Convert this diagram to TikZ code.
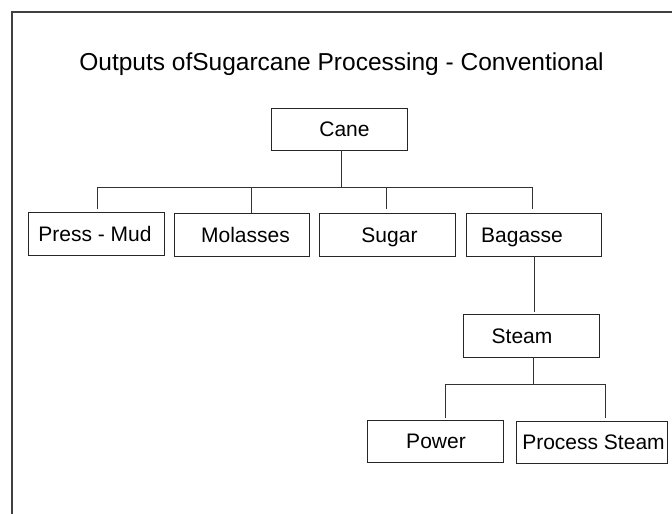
\documentclass[tikz,border=0pt]{standalone}
\usepackage{fontspec}
\setmainfont{Liberation Sans}
\begin{document}
\begin{tikzpicture}[x=1pt,y=-1pt,
  box/.style={draw=black!85,line width=0.9pt,minimum height=43pt,inner sep=0pt,outer sep=0pt},
  lbl/.style={font=\fontsize{21}{24}\selectfont,text height=15pt,text depth=0pt,inner sep=0pt},
  link/.style={draw=black!80,line width=0.9pt}]
  \useasboundingbox (0,0) rectangle (672,514);
  \clip (0,0) rectangle (672,514);
  % outer frame, running off the right and bottom edges
  \draw[black!75,line width=1.4pt] (12,12) rectangle (700,540);

  % title
  \node[font=\fontsize{24.5}{28}\selectfont,anchor=base,inner sep=0pt] (title) at (341.5,70.5)
    {Outputs ofSugarcane Processing - Conventional};

  % boxes
  \node[box,minimum width=136pt,minimum height=42pt,
        label={[lbl,xshift=5.5pt]center:Cane}] (cane) at (339,129) {};
  \node[box,minimum width=136pt,
        label={[lbl,xshift=-1pt]center:Press - Mud}] (pm) at (96,233.5) {};
  \node[box,minimum width=135pt,
        label={[lbl,xshift=4pt]center:Molasses}] (mol) at (241.5,234.5) {};
  \node[box,minimum width=136pt,
        label={[lbl,xshift=2.5pt]center:Sugar}] (sug) at (387,234.5) {};
  \node[box,minimum width=135pt,
        label={[lbl,xshift=-11.5pt]center:Bagasse}] (bag) at (533.5,234.5) {};
  \node[box,minimum width=136pt,
        label={[lbl,xshift=-9pt]center:Steam}] (steam) at (531,335.5) {};
  \node[box,minimum width=136pt,minimum height=42pt,
        label={[lbl,xshift=1pt]center:Power}] (pow) at (435,441) {};
  \node[box,minimum width=151pt,minimum height=42pt,
        label={[lbl,xshift=2pt]center:Process Steam}] (ps) at (591.5,442) {};

  % junctions on the bus lines
  \coordinate (busL) at (97,187);
  \coordinate (busC) at (341,187);
  \coordinate (busR) at (532,187);
  \coordinate (subL) at (445,384);
  \coordinate (subC) at (533,384);
  \coordinate (subR) at (605,384);

  % Cane to its four outputs
  \draw[link] (cane.south -| busC) -- (busC);
  \draw[link] ([yshift=3pt]pm.north -| busL) -- (busL) -- (busR) -- ([yshift=4pt]bag.north -| busR);
  \draw[link] (mol.north -| 251,0) -- (251,187);
  \draw[link] ([yshift=4pt]sug.north -| 386,0) -- (386,187);

  % Bagasse to Steam
  \draw[link] (bag.south -| 534,0) -- ([yshift=2pt]steam.north -| 534,0);

  % Steam to its two outputs
  \draw[link] (steam.south -| subC) -- (subC);
  \draw[link] ([yshift=2pt]pow.north -| subL) -- (subL) -- (subR) -- ([yshift=3pt]ps.north -| subR);
\end{tikzpicture}
\end{document}
